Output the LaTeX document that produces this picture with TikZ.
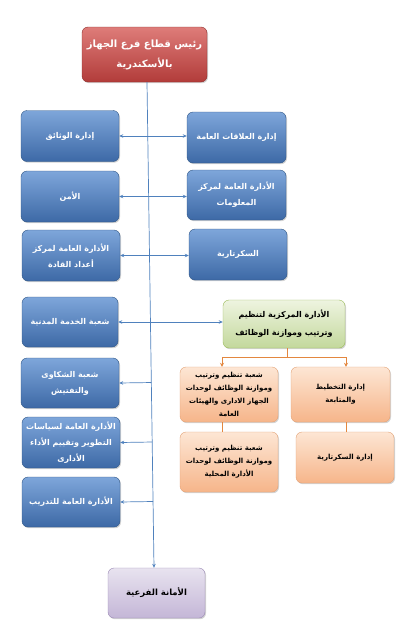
\documentclass[tikz,border=0pt]{standalone}
\usepackage{fontspec}
\newfontfamily\arabicfont[Script=Arabic]{DejaVu Sans}
\TeXXeTstate=1
\usepackage{xcolor}
\usepackage{tikz}
\usetikzlibrary{arrows.meta,positioning,calc,shadows}

\definecolor{bluetop}{HTML}{7EA6DA}
\definecolor{bluebot}{HTML}{3D69A6}
\definecolor{blueedge}{HTML}{2F5685}
\definecolor{redtop}{HTML}{DE7C79}
\definecolor{redbot}{HTML}{B23C3A}
\definecolor{rededge}{HTML}{8C2D2B}
\definecolor{greentop}{HTML}{EEF4E0}
\definecolor{greenbot}{HTML}{C3D89C}
\definecolor{greenedge}{HTML}{9BBB59}
\definecolor{orangetop}{HTML}{FDE6D4}
\definecolor{orangebot}{HTML}{F6B58A}
\definecolor{orangeedge}{HTML}{E3A377}
\definecolor{purpletop}{HTML}{E8E3EF}
\definecolor{purplebot}{HTML}{C4B6D7}
\definecolor{purpleedge}{HTML}{9A88B4}
\definecolor{linkblue}{HTML}{4F81BD}
\definecolor{linkorange}{HTML}{E3873F}

\newcommand{\artxt}[1]{\beginR #1\endR}

\tikzset{
  unitbox/.style={rounded corners=6pt, align=center, inner sep=2pt,
    drop shadow={shadow xshift=1pt, shadow yshift=-1.2pt, opacity=0.35}},
  bluebox/.style={unitbox, draw=blueedge, top color=bluetop, bottom color=bluebot,
    text=white, minimum width=98pt, minimum height=51pt,
    font=\arabicfont\bfseries\fontsize{8}{16}\selectfont},
  redbox/.style={unitbox, draw=rededge, top color=redtop, bottom color=redbot,
    text=white, font=\arabicfont\bfseries\fontsize{10}{20}\selectfont},
  greenbox/.style={unitbox, draw=greenedge, top color=greentop, bottom color=greenbot,
    font=\arabicfont\bfseries\fontsize{8}{18}\selectfont},
  orangebox/.style={unitbox, draw=orangeedge, top color=orangetop, bottom color=orangebot,
    minimum width=98pt, font=\arabicfont\bfseries\fontsize{7}{13}\selectfont},
  purplebox/.style={unitbox, draw=purpleedge, top color=purpletop, bottom color=purplebot,
    font=\arabicfont\bfseries\fontsize{8.5}{12}\selectfont},
  bluelink/.style={linkblue, line width=0.7pt},
  orangelink/.style={linkorange, line width=0.9pt},
}

\begin{document}
\begin{tikzpicture}[x=1pt, y=-1pt, font=\arabicfont\bfseries\fontsize{7}{10}\selectfont]
  \useasboundingbox (0,0) rectangle (402,640);
  % head and secretariat at the bottom
  \node[redbox, minimum width=125pt, minimum height=55pt] (head) at (144.5,54.5)
    {\artxt{رئيس قطاع فرع الجهاز}\\\artxt{بالأسكندرية}};
  \node[purplebox, minimum width=97pt, minimum height=50pt] (branch) at (156.5,593)
    {\artxt{الأمانة الفرعية}};
  % trunk
  \coordinate (trunktop) at ($(head.south)+(2.5,0)$);
  \coordinate (trunkend) at ($(branch.north)+(-2.5,0)$);
  \draw[bluelink, -{Stealth[length=4pt,width=3.5pt]}] (trunktop) -- (trunkend);
  % left column
  \node[bluebox] (docs) at (70,136) {\artxt{إدارة الوثائق}};
  \node[bluebox] (security) at (70,196.5) {\artxt{الأمن}};
  \node[bluebox] (leaders) at (71,255.5) {\artxt{الأدارة العامة لمركز}\\\artxt{أعداد القادة}};
  \node[bluebox, minimum width=96pt, minimum height=50pt] (civil) at (70,322) {\artxt{شعبة الخدمة المدنية}};
  \node[bluebox, minimum height=50pt] (complaints) at (70,383) {\artxt{شعبة الشكاوى}\\\artxt{والتفتيش}};
  \node[bluebox] (policies) at (71,442.5)
    {\artxt{الأدارة العامة لسياسات}\\\artxt{التطوير وتقييم الأداء}\\\artxt{الأدارى}};
  \node[bluebox, minimum height=50pt] (training) at (71,502) {\artxt{الأدارة العامة للتدريب}};
  % right column
  \node[bluebox, minimum width=99pt] (relations) at (236.5,137.5) {\artxt{إدارة العلاقات العامة}};
  \node[bluebox, minimum width=99pt, minimum height=50pt] (infocenter) at (236.5,195)
    {\artxt{الأدارة العامة لمركز}\\\artxt{المعلومات}};
  \node[bluebox] (secretary) at (238,254.5) {\artxt{السكرتارية}};
  \node[greenbox, minimum width=122pt, minimum height=48pt] (jobs) at (284,324)
    {\artxt{الأدارة المركزية لتنظيم}\\\artxt{وترتيب وموازنة الوظائف}};
  % under the central administration
  \node[orangebox, minimum height=55pt] (orgunits) at (229,394.5)
    {\artxt{شعبة تنظيم وترتيب}\\\artxt{وموازنة الوظائف لوحدات}\\\artxt{الجهاز الادارى والهيئات}\\\artxt{العامة}};
  \node[orangebox, minimum width=99pt, minimum height=55pt] (planning) at (340.5,394.5)
    {\artxt{إدارة التخطيط}\\\artxt{والمتابعة}};
  \node[orangebox, minimum height=60pt] (localunits) at (229,462)
    {\artxt{شعبة تنظيم وترتيب}\\\artxt{وموازنة الوظائف لوحدات}\\\artxt{الأدارة المحلية}};
  \node[orangebox, minimum height=51pt] (jobsecretary) at (345,457.5)
    {\artxt{إدارة السكرتارية}};
  % links across the trunk
  \foreach \l/\r in {docs/relations, security/infocenter, leaders/secretary, civil/jobs}
    \draw[bluelink, {Stealth[length=4pt,width=3.5pt]}-{Stealth[length=4pt,width=3.5pt]}]
      (\l.east) -- (\l.east -| \r.west);
  \foreach \l in {complaints, policies, training}
    \draw[bluelink, -{Stealth[length=4pt,width=3.5pt]}]
      ($(trunktop)!(\l.east)!(trunkend)$) -- (\l.east);
  % orange branches
  \coordinate (fork) at ($(jobs.south)+(3,9)$);
  \coordinate (forkL) at (222,357);
  \coordinate (forkR) at (346,357);
  \draw[orangelink] ($(jobs.south)+(3,0)$) -- (fork);
  \draw[orangelink] (forkL) -- (forkR);
  \draw[orangelink, -{Stealth[length=4pt,width=4pt]}] (forkL) -- (forkL |- orgunits.north);
  \draw[orangelink, -{Stealth[length=4pt,width=4pt]}] (forkR) -- (forkR |- planning.north);
  \draw[orangelink] (forkL |- orgunits.south) -- (forkL |- localunits.north);
  \draw[orangelink] (forkR |- planning.south) -- (forkR |- jobsecretary.north);
\end{tikzpicture}
\end{document}
